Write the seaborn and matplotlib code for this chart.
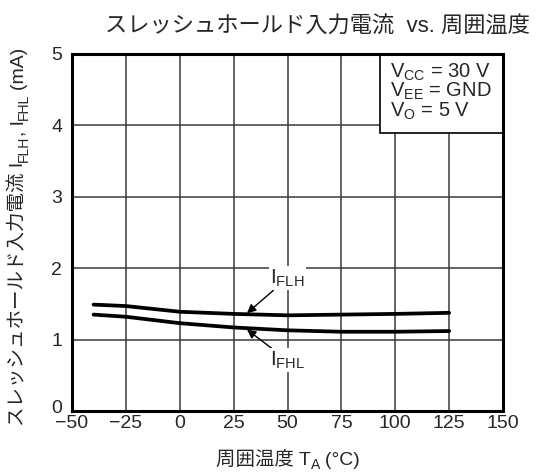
import numpy as np
import pandas as pd
import matplotlib
matplotlib.use('Agg')
import matplotlib.pyplot as plt
import matplotlib.transforms as mtransforms
import seaborn as sns
from matplotlib.patches import Rectangle

# data
temp = [-40, -25, 0, 25, 50, 75, 100, 125]
i_flh = [1.49, 1.47, 1.39, 1.36, 1.34, 1.35, 1.36, 1.375]
i_fhl = [1.35, 1.32, 1.23, 1.17, 1.13, 1.11, 1.11, 1.12]
xticks = [-50, -25, 0, 25, 50, 75, 100, 125, 150]
yticks = [0, 1, 2, 3, 4, 5]

sns.set_style('white')
FAM = ['Liberation Sans', 'Noto Sans CJK JP', 'DejaVu Sans']
plt.rcParams['font.family'] = FAM
plt.rcParams['mathtext.fontset'] = 'custom'
plt.rcParams['mathtext.rm'] = 'Liberation Sans'
plt.rcParams['mathtext.it'] = 'Liberation Sans'
plt.rcParams['axes.unicode_minus'] = True

df = pd.DataFrame({'temp': temp * 2,
                   'cur': i_flh + i_fhl,
                   'kind': ['FLH'] * len(temp) + ['FHL'] * len(temp)})

W, H = 536, 474
fig = plt.figure(figsize=(W / 100, H / 100), dpi=100)
ax = fig.add_axes([72 / W, 1 - 411 / H, 431 / W, 357 / H])

sns.lineplot(data=df, x='temp', y='cur', units='kind', estimator=None,
             color='black', lw=2.7, ax=ax)

ax.set_xlim(-50, 150)
ax.set_ylim(0, 5)
ax.set_xticks(xticks)
ax.set_yticks(yticks)
ax.set_xlabel('')
ax.set_ylabel('')
ax.grid(True, color='#3a3a3a', lw=1.1)
ax.tick_params(length=0, labelsize=14)
ax.tick_params(axis='x', pad=3)
ax.tick_params(axis='y', pad=7)
for s in ax.spines.values():
    s.set_linewidth(2.2)
    s.set_color('black')
    s.set_zorder(5)

# lift the "0" a touch so it does not sit on "-50"
zero = ax.get_yticklabels()[0]
zero.set_transform(zero.get_transform() +
                   mtransforms.ScaledTranslation(0, 3 / 72, fig.dpi_scale_trans))

renderer = fig.canvas.get_renderer()


def rich(x, y, pieces, size, rotation=0):
    # pieces: (text, is_subscript); x, y = centre of the label in pixels
    objs = []
    total = 0
    for txt, sub in pieces:
        fs = size * 0.72 if sub else size
        t = fig.text(0, 0, txt, fontsize=fs, family=FAM, ha='left',
                     va='baseline', rotation_mode='anchor')
        w = t.get_window_extent(renderer).width
        objs.append((t, w, sub))
        total += w
    pos = -total / 2
    base = -size * 0.35  # baseline offset from visual centre
    for t, w, sub in objs:
        off = base - (size * 0.3 if sub else 0)
        if rotation == 90:
            px, py = x - off, y + pos
        else:
            px, py = x + pos, y + off
        t.set_position((px / W, py / H))
        t.set_rotation(rotation)
        pos += w


rich(288, H - 460, [('周囲温度 T', False), ('A', True), ('\u2009(°C)', False)], 14)
rich(19, H - 237, [('スレッシュホールド入力電流 I', False), ('FLH', True),
                   (', I', False), ('FHL', True), ('\u2009(mA)', False)], 14, rotation=90)

fig.text(530 / W, 1 - 27 / H, 'スレッシュホールド入力電流  vs. 周囲温度',
         ha='right', va='center', fontsize=16, family=FAM)

# conditions box
ax.add_patch(Rectangle((0.715, 0.779), 0.285, 0.221, transform=ax.transAxes,
                       facecolor='white', edgecolor='black', lw=1.2, zorder=4))
conds = ['V$_\\mathrm{CC}$ = 30 V', 'V$_\\mathrm{EE}$ = GND', 'V$_\\mathrm{O}$ = 5 V']
for k, t in enumerate(conds):
    ax.text(0.738, 0.950 - k * 0.056, t, transform=ax.transAxes,
            fontsize=14.5, va='center', ha='left', zorder=6)

arrow = dict(arrowstyle='-|>', color='black', lw=1.0, mutation_scale=13,
             shrinkA=0, shrinkB=0)
ax.annotate('I$_\\mathrm{FLH}$', xy=(31.2, 1.37), xytext=(50, 1.86),
            fontsize=15, ha='center', va='center', arrowprops=arrow,
            bbox=dict(facecolor='white', edgecolor='none', pad=1))
ax.annotate('I$_\\mathrm{FHL}$', xy=(31.2, 1.14), xytext=(50, 0.71),
            fontsize=15, ha='center', va='center', arrowprops=arrow,
            bbox=dict(facecolor='white', edgecolor='none', pad=1))

fig.savefig('out.png', dpi=100)
